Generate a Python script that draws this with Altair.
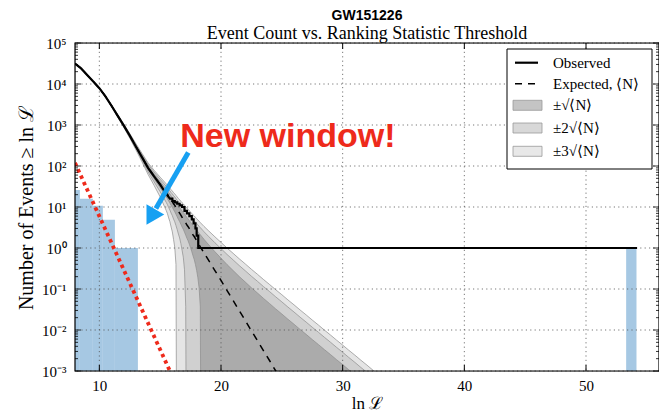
import json
import numpy as np
import pandas as pd
import altair as alt

# ---------------- data ----------------
exp_x = [8.0, 8.5, 9.0, 9.5, 10.0, 10.5, 11.0, 11.5, 12.0, 12.5, 13.0, 13.5, 14.0, 14.5, 15.0,
         15.5, 15.6, 15.7, 15.8, 15.9, 16.0, 16.1, 16.2, 16.3, 16.4, 16.5, 16.6, 16.7, 16.8, 16.9,
         17.0, 17.1, 17.2, 17.3, 17.4, 17.5, 17.6, 17.7, 17.8, 17.9, 18.0, 18.1, 18.2, 18.3, 18.4,
         18.5, 18.6, 19.0, 19.5, 20.0, 20.5, 21.0, 21.5, 22.0, 22.5, 23.0, 23.5, 24.0, 24.5, 25.0,
         25.5, 26.0, 26.5, 27.0, 27.5, 28.0, 28.5, 29.0, 29.5, 30.0, 30.5, 31.0, 31.5, 32.0, 32.5,
         33.0, 33.5, 34.0]
exp_log10 = [4.50, 4.38, 4.22, 4.06, 3.90, 3.70, 3.47, 3.23, 2.99, 2.74, 2.48, 2.22, 1.96, 1.75, 1.55,
             1.35, 1.31, 1.26, 1.22, 1.17, 1.13, 1.08, 1.04, 0.99, 0.94, 0.89, 0.85, 0.80, 0.75, 0.71,
             0.66, 0.61, 0.56, 0.52, 0.47, 0.42, 0.37, 0.32, 0.28, 0.23, 0.18, 0.13, 0.08, 0.03, -0.02,
             -0.07, -0.12, -0.31, -0.55, -0.79, -1.04, -1.28, -1.53, -1.77, -2.02, -2.26, -2.51, -2.75, -3.00, -3.24,
             -3.49, -3.73, -3.98, -4.22, -4.47, -4.71, -4.96, -5.20, -5.45, -5.69, -5.94, -6.18, -6.43, -6.67, -6.92,
             -7.16, -7.41, -7.65]

obs_x = [8.0, 8.5, 9.0, 9.5, 10.0, 10.5, 11.0, 11.5, 12.0, 12.5, 13.0, 13.5, 14.0, 14.5, 15.0, 15.5, 15.8]
obs_n = [31600, 24000, 16600, 11500, 7900, 5000, 2950, 1700, 980, 550, 300, 165, 90, 56, 35, 21, 16]
step_x = [16.0, 16.2, 16.4, 16.6, 16.8, 17.0, 17.2, 17.4, 17.6, 17.75, 17.9, 18.0, 18.13]
step_n = [14, 13, 12, 11, 10, 8, 7, 6, 5, 4, 3, 2, 1]
obs_end_x = 54.2

hist_x0 = [8.0, 8.4, 9.47, 10.29, 11.28, 53.3]
hist_x1 = [8.4, 9.47, 10.29, 11.28, 13.17, 54.15]
hist_n = [26, 16, 10.7, 4.9, 1.0, 1.0]

red_x = [8.0, 15.8]
red_n = [119, 0.001]

arrow_x = [17.31, 14.65]
arrow_n = [214, 9.25]
arrow_head_x = [14.24]
arrow_head_n = [5.7]
note_x = [25.5]
note_n = [295]
note_text = ["New window!"]

title_text = "GW151226"
subtitle_text = "Event Count vs. Ranking Statistic Threshold"

xtick_vals = [10, 20, 30, 40, 50]
ytick_vals = [1e-3, 1e-2, 1e-1, 1e0, 1e1, 1e2, 1e3, 1e4, 1e5]
ytick_labels = ["10⁻³", "10⁻²", "10⁻¹", "10⁰", "10¹", "10²", "10³", "10⁴", "10⁵"]

legend_labels = ["Observed", "Expected, ⟨N⟩", "±√⟨N⟩", "±2√⟨N⟩", "±3√⟨N⟩"]
band_colors = ["#ababab", "#d0d0d0", "#e5e5e5"]
legend_patch_colors = ["#c4c4c4", "#d8d8d8", "#e8e8e8"]

# ---------------- tables ----------------
W, H = 584, 328
SERIF = "Liberation Serif"

N = 10 ** np.array(exp_log10)
bands = pd.DataFrame({"x": exp_x, "exp": N})
for k in (1, 2, 3):
    lo = N - k * np.sqrt(N)
    bands[f"hi{k}"] = N + k * np.sqrt(N)
    bands[f"lo{k}"] = np.where(lo > 1e-9, lo, 1e-9)

px, pn = list(obs_x), list(obs_n)
prev = obs_n[-1]
for sx, sn in zip(step_x, step_n):
    px += [sx, sx]
    pn += [prev, sn]
    prev = sn
px.append(obs_end_x)
pn.append(prev)
observed = pd.DataFrame({"x": px, "n": pn, "o": range(len(px))})

hist = pd.DataFrame({"x0": hist_x0, "x1": hist_x1, "n": hist_n, "b": [1e-3] * len(hist_n)})
red = pd.DataFrame({"x": red_x, "n": red_n})
arrow = pd.DataFrame({"x": [arrow_x[0]], "x2": [arrow_x[1]], "n": [arrow_n[0]], "n2": [arrow_n[1]]})
head = pd.DataFrame({"x": arrow_head_x, "n": arrow_head_n})
note = pd.DataFrame({"x": note_x, "n": note_n, "t": note_text})

xgrid = pd.DataFrame({"x": xtick_vals})
ygrid = pd.DataFrame({"n": ytick_vals})
minor = pd.DataFrame({"n": [m * 10.0 ** d for d in range(-3, 5) for m in range(2, 10)]})
one = pd.DataFrame({"a": [0]})

xscale = alt.Scale(domain=[8, 56], nice=False, zero=False)
yscale = alt.Scale(type="log", domain=[1e-3, 1e5], nice=False)
label_expr = json.dumps(ytick_labels, ensure_ascii=False) + "[round(log(datum.value)/LN10)+3]"
xaxis = alt.Axis(values=xtick_vals, format="d", grid=False, ticks=False, tickSize=0, domain=False,
                 labelPadding=7, labelFont=SERIF, labelFontSize=15, labelColor="black",
                 titleFont=SERIF, titleFontSize=17, titleFontWeight="normal", titleColor="black",
                 titlePadding=2)
yaxis = alt.Axis(values=ytick_vals, labelExpr=label_expr, grid=False, ticks=False, tickSize=0,
                 domain=False, labelPadding=9, labelFont=SERIF, labelFontSize=15, labelColor="black",
                 titleFont=SERIF, titleFontSize=20, titleFontWeight="normal", titleColor="black",
                 titlePadding=5)
XT = "ln ℒ"
YT = "Number of Events ≥ ln ℒ"


def X(f):
    return alt.X(f, type="quantitative", scale=xscale, axis=xaxis, title=XT)


def Y(f):
    return alt.Y(f, type="quantitative", scale=yscale, axis=yaxis, title=YT)


layers = []
# bands (outer first)
for k, col in zip((3, 2, 1), band_colors[::-1]):
    layers.append(alt.Chart(bands).mark_area(clip=True, color=col, stroke="#8c8c8c", strokeWidth=0.7)
                  .encode(x=X("x"), y=Y(f"hi{k}"), y2=alt.Y2(f"lo{k}")))
# blue histogram
layers.append(alt.Chart(hist).mark_rect(clip=True, color="#a6c8e3")
              .encode(x=X("x0"), x2=alt.X2("x1"), y=Y("n"), y2=alt.Y2("b")))
# grid
layers.append(alt.Chart(xgrid).mark_rule(color="#555", strokeDash=[1.2, 3.2], strokeWidth=1, opacity=0.8)
              .encode(x=X("x")))
layers.append(alt.Chart(ygrid).mark_rule(color="#555", strokeDash=[1.2, 3.2], strokeWidth=1, opacity=0.8)
              .encode(y=Y("n")))
# expected
layers.append(alt.Chart(bands).mark_line(clip=True, color="black", strokeDash=[7, 6], strokeWidth=1.5)
              .encode(x=X("x"), y=Y("exp")))
# observed
layers.append(alt.Chart(observed).mark_line(clip=True, color="black", strokeWidth=2.2)
              .encode(x=X("x"), y=Y("n"), order="o:Q"))
# red dotted
layers.append(alt.Chart(red).mark_line(clip=True, color="#ee2a1b", strokeDash=[3.5, 3.5], strokeWidth=3.8)
              .encode(x=X("x"), y=Y("n")))
# arrow + note
layers.append(alt.Chart(arrow).mark_rule(color="#17a0f2", strokeWidth=5)
              .encode(x=X("x"), x2=alt.X2("x2"), y=Y("n"), y2=alt.Y2("n2")))
layers.append(alt.Chart(head).mark_point(shape="triangle-up", angle=210, size=420, filled=True,
                                         color="#17a0f2", opacity=1)
              .encode(x=X("x"), y=Y("n")))
layers.append(alt.Chart(note).mark_text(font="Liberation Sans", fontWeight="bold", fontSize=34,
                                        color="#ee2a1b", align="center", baseline="alphabetic")
              .encode(x=X("x"), y=Y("n"), text="t:N"))
# ticks inside
for y0, y1 in ((H, H - 6), (0, 6)):
    layers.append(alt.Chart(xgrid).mark_rule(color="black", strokeWidth=1)
                  .encode(x=X("x"), y=alt.value(y0), y2=alt.value(y1)))
for x0, x1, d in ((0, 6, ygrid), (W, W - 6, ygrid), (0, 3, minor), (W, W - 3, minor)):
    layers.append(alt.Chart(d).mark_rule(color="black", strokeWidth=0.8)
                  .encode(y=Y("n"), x=alt.value(x0), x2=alt.value(x1)))
# frame
layers.append(alt.Chart(one).mark_rect(fill=None, stroke="black", strokeWidth=1.2)
              .encode(x=alt.value(0), x2=alt.value(W), y=alt.value(0), y2=alt.value(H)))

# titles
layers.append(alt.Chart(one).mark_text(font="Liberation Sans", fontWeight="bold", fontSize=14,
                                       color="black", align="center", baseline="alphabetic", text=title_text)
              .encode(x=alt.value(W / 2), y=alt.value(-23)))
layers.append(alt.Chart(one).mark_text(font=SERIF, fontSize=18, color="black", align="center",
                                       baseline="alphabetic", text=subtitle_text)
              .encode(x=alt.value(W / 2), y=alt.value(-4)))

# legend
LX0, LX1, LY0, LY1 = 432, 577, 6, 126
rows = [19.7, 40.7, 62.3, 85.0, 108.3]
layers.append(alt.Chart(one).mark_rect(fill="white", stroke="black", strokeWidth=1)
              .encode(x=alt.value(LX0), x2=alt.value(LX1), y=alt.value(LY0), y2=alt.value(LY1)))
layers.append(alt.Chart(one).mark_rule(color="black", strokeWidth=2.2)
              .encode(x=alt.value(440), x2=alt.value(463), y=alt.value(rows[0])))
layers.append(alt.Chart(one).mark_rule(color="black", strokeWidth=1.5, strokeDash=[7, 6])
              .encode(x=alt.value(440), x2=alt.value(463), y=alt.value(rows[1])))
for r, c in zip(rows[2:], legend_patch_colors):
    layers.append(alt.Chart(one).mark_rect(fill=c, stroke="#999", strokeWidth=0.8)
                  .encode(x=alt.value(438), x2=alt.value(467), y=alt.value(r - 5), y2=alt.value(r + 5)))
for r, t in zip(rows, legend_labels):
    layers.append(alt.Chart(one).mark_text(font=SERIF, fontSize=15, color="black", align="left",
                                           baseline="middle", text=t)
                  .encode(x=alt.value(478), y=alt.value(r)))

chart = alt.layer(*layers).properties(
    width=W, height=H,
    autosize=alt.AutoSizeParams(type="none"),
    padding={"left": 67, "top": 35, "right": 0, "bottom": 40},
).configure_view(stroke=None).configure(background="white")

chart.save("out.html", embed_options={"renderer": "svg", "actions": False})
